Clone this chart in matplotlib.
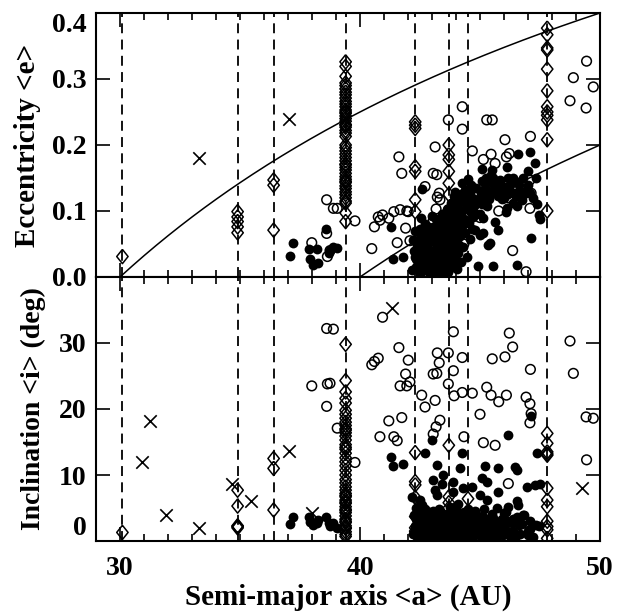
import matplotlib
matplotlib.use('Agg')
import matplotlib.pyplot as plt
import numpy as np

plt.rcParams['font.family'] = ['Liberation Serif', 'DejaVu Serif']
plt.rcParams['font.weight'] = 'bold'

# resonance locations (AU) and perihelion curves q (AU)
res_a = [30.1, 34.9, 36.4, 39.4, 42.3, 43.7, 44.5, 47.8]
q_curves = [30.0, 40.0]

# resonant objects, per resonance
e_11 = [0.031]
i_11 = [1.3]
e_54 = [0.099, 0.091, 0.084, 0.076, 0.067]
i_54 = [7.7, 5.3, 2.3, 2.0, 2.2]
e_43 = [0.147, 0.139, 0.071]
i_43 = [12.5, 11.0, 4.7]
e_32 = [0.326, 0.319, 0.304, 0.294, 0.290, 0.285, 0.280, 0.276, 0.271, 0.266,
        0.262, 0.258, 0.253, 0.248, 0.244, 0.240, 0.236, 0.231, 0.227, 0.222,
        0.218, 0.213, 0.196, 0.191, 0.186, 0.181, 0.176, 0.171, 0.166, 0.162,
        0.157, 0.152, 0.148, 0.143, 0.138, 0.134, 0.129, 0.125, 0.120, 0.115,
        0.112, 0.097, 0.084, 0.250, 0.230, 0.170, 0.145, 0.200]
i_32 = [29.8, 24.3, 22.6, 21.6, 20.9, 19.8, 19.2, 18.6, 18.0, 17.5,
        17.0, 16.4, 15.9, 15.3, 14.6, 13.9, 13.3, 12.6, 12.0, 11.4,
        10.7, 10.0, 9.3, 8.2, 7.7, 7.2, 6.7, 6.2, 5.7, 5.2,
        4.8, 4.3, 3.8, 3.3, 2.8, 2.3, 1.9, 1.4, 1.0, 0.7,
        6.9, 4.6, 3.0, 2.0, 16.8, 14.2, 5.9, 8.8]
e_53 = [0.235, 0.230, 0.225, 0.167, 0.160, 0.117, 0.099]
i_53 = [13.4, 9.0, 8.5, 6.6, 3.7, 2.0, 1.5]
e_74 = [0.200, 0.185, 0.178, 0.160, 0.142, 0.125]
i_74 = [14.5, 6.7, 5.8, 5.0, 2.5, 1.0]
e_95 = [0.140]
i_95 = [6.4]
e_21 = [0.377, 0.367, 0.347, 0.344, 0.315, 0.282, 0.258, 0.250, 0.245, 0.238, 0.208, 0.100]
i_21 = [16.3, 14.8, 13.5, 13.0, 8.0, 6.2, 5.2, 2.2, 1.7, 0.4, 13.2, 3.0]

# scattered objects (crosses); e > 0.4 lies off the top panel
a_sc = [30.9, 31.24, 31.9, 33.29, 34.68, 35.45, 37.05, 38.0, 41.33, 49.24]
e_sc = [0.52, 0.47, 0.61, 0.18, 0.55, 0.50, 0.24, 0.44, 0.58, 0.66]
i_sc = [11.9, 18.2, 4.0, 1.9, 8.6, 6.1, 13.7, 4.3, 35.3, 8.0]

# hot classicals (open circles)
a_hot = [37.99, 38.64, 38.61, 38.61, 38.89, 39.05, 38.75, 39.79,
         40.49, 40.60, 40.76, 40.83, 40.94, 41.20, 41.41, 41.55, 41.62, 41.74,
         41.67, 41.95, 41.90, 42.01, 42.08,
         42.57, 42.71, 43.13, 43.05, 43.20, 43.30, 43.22, 43.33, 43.17, 43.05,
         43.68, 43.89, 43.68, 43.89, 43.92, 44.26, 44.26, 44.33, 44.68,
         45.00, 45.14, 45.28, 45.46, 45.51, 45.63, 45.78, 46.04, 46.10, 46.22,
         46.36, 46.18, 46.92, 47.08, 47.13, 47.10, 47.08,
         48.75, 48.89, 49.42, 49.72, 49.44]
e_hot = [0.052, 0.031, 0.066, 0.117, 0.104, 0.104, 0.040, 0.085,
         0.043, 0.076, 0.091, 0.086, 0.094, 0.089, 0.099, 0.052, 0.182, 0.157,
         0.102, 0.100, 0.074, 0.099, 0.055,
         0.050, 0.137, 0.197, 0.157, 0.155, 0.127, 0.121, 0.117, 0.103, 0.086,
         0.238, 0.060, 0.102, 0.040, 0.070, 0.258, 0.224, 0.050, 0.191,
         0.090, 0.178, 0.238, 0.186, 0.238, 0.172, 0.100, 0.208, 0.182, 0.187,
         0.040, 0.120, 0.008, 0.147, 0.127, 0.213, 0.104,
         0.267, 0.302, 0.256, 0.288, 0.327]
i_hot = [23.5, 23.8, 20.4, 32.2, 32.1, 17.1, 23.9, 11.9,
         26.7, 27.2, 27.7, 15.8, 33.9, 18.2, 15.8, 15.2, 29.3, 18.7,
         23.5, 23.5, 25.3, 27.4, 24.1,
         22.1, 20.3, 21.3, 25.3, 25.4, 27.0, 28.5, 18.3, 17.3, 16.2,
         28.5, 31.7, 23.8, 25.8, 22.0, 27.8, 22.5, 15.8, 22.4,
         19.2, 14.9, 23.3, 22.1, 27.6, 14.5, 21.1, 27.9, 22.1, 31.5,
         29.4, 8.7, 21.8, 20.8, 19.3, 26.0, 17.9,
         30.3, 25.4, 18.8, 18.6, 12.3]

# cold classicals (filled circles)
a_cold = [37.08, 37.22, 37.89, 37.92, 38.05, 38.22, 38.26, 38.58, 38.71, 38.75,
          38.89, 39.03, 41.28, 41.39, 41.80,
          42.15, 42.22, 42.28, 42.32, 42.36, 42.40, 42.43, 42.46, 42.50, 42.52,
          42.55, 42.57, 42.60, 42.62, 42.64, 42.66, 42.68, 42.71, 42.73, 42.75,
          42.80, 42.83, 42.86, 42.88, 42.91, 42.94, 42.97, 42.99, 43.02, 43.05,
          43.07, 43.10, 43.13, 43.15, 43.18, 43.20, 43.20, 43.23, 43.26, 43.28,
          43.31, 43.34, 43.37, 43.40, 43.42, 43.45, 43.47, 43.50, 43.52, 43.55,
          43.58, 43.60, 43.63, 43.65, 43.67, 43.70, 43.72, 43.74, 43.76, 43.78,
          43.80, 43.82, 43.84, 43.86, 43.89, 43.89, 43.91, 43.93, 43.95, 43.96,
          43.98, 44.00, 44.02, 44.04, 44.06, 44.08, 44.10, 44.12,
          44.17, 44.20, 44.22, 44.24, 44.26, 44.28, 44.30, 44.33, 44.36, 44.39,
          44.42, 44.45, 44.48, 44.51, 44.54, 44.57, 44.60, 44.63, 44.65, 44.68,
          44.72, 44.75, 44.79, 44.85,
          44.93, 45.00, 45.00, 45.04, 45.07, 45.10, 45.14, 45.14, 45.18, 45.21,
          45.25, 45.28, 45.28, 45.32, 45.35, 45.42, 45.45, 45.49, 45.49, 45.56,
          45.60, 45.63, 45.70, 45.76, 45.76, 45.83,
          45.90, 45.96, 46.04, 46.10, 46.11, 46.11, 46.18, 46.18, 46.25, 46.32,
          46.39, 46.46, 46.53, 46.53, 46.55, 46.60, 46.68, 46.74, 46.80, 46.94,
          47.01, 47.08, 47.08, 47.13, 47.29, 47.39, 47.47, 47.50]
e_cold = [0.032, 0.051, 0.043, 0.027, 0.018, 0.042, 0.021, 0.072, 0.037, 0.041,
          0.046, 0.044, 0.076, 0.028, 0.030,
          0.010, 0.056, 0.030, 0.015, 0.045, 0.068, 0.022, 0.038, 0.005, 0.058,
          0.089, 0.025, 0.134, 0.048, 0.071, 0.012, 0.035, 0.080, 0.018, 0.062,
          0.028, 0.050, 0.008, 0.075, 0.040, 0.020, 0.065, 0.034, 0.092, 0.012,
          0.055, 0.026, 0.078, 0.042, 0.006, 0.060, 0.032, 0.085, 0.018, 0.048,
          0.070, 0.030, 0.010, 0.058, 0.095, 0.038, 0.022, 0.066, 0.046, 0.014,
          0.080, 0.030, 0.102, 0.055, 0.008, 0.068, 0.040, 0.088, 0.020, 0.112,
          0.050, 0.075, 0.035, 0.096, 0.015, 0.060, 0.122, 0.045, 0.082, 0.129,
          0.025, 0.070, 0.105, 0.052, 0.012, 0.090, 0.036, 0.115,
          0.062, 0.098, 0.022, 0.143, 0.078, 0.120, 0.045, 0.088, 0.132, 0.066,
          0.105, 0.030, 0.148, 0.112, 0.082, 0.125, 0.058, 0.140, 0.095, 0.072,
          0.091, 0.118, 0.071, 0.135,
          0.017, 0.064, 0.096, 0.128, 0.164, 0.145, 0.066, 0.089, 0.112, 0.122,
          0.150, 0.107, 0.144, 0.130, 0.048, 0.051, 0.155, 0.127, 0.162, 0.016,
          0.140, 0.084, 0.137, 0.071, 0.122, 0.147,
          0.118, 0.132, 0.137, 0.099, 0.167, 0.104, 0.125, 0.150, 0.140, 0.144,
          0.112, 0.128, 0.144, 0.108, 0.018, 0.186, 0.130, 0.117, 0.150, 0.132,
          0.160, 0.190, 0.127, 0.059, 0.172, 0.110, 0.094, 0.088]
i_cold = [2.6, 3.6, 3.7, 2.9, 2.4, 2.7, 3.2, 3.7, 2.7, 2.2,
          2.7, 1.9, 12.7, 11.4, 11.7,
          6.7, 1.0, 2.2, 3.4, 0.6, 2.8, 4.2, 1.5, 6.2, 0.9,
          3.0, 5.5, 1.8, 2.5, 0.4, 4.6, 1.2, 13.3, 3.6, 2.0,
          0.7, 3.1, 1.9, 4.4, 0.5, 2.6, 1.3, 15.3, 3.8, 9.2,
          0.8, 2.3, 7.7, 1.1, 3.5, 11.5, 7.0, 0.6, 2.0, 4.9,
          1.6, 0.4, 2.9, 8.7, 1.8, 3.3, 10.0, 0.9, 2.4, 4.0,
          1.2, 3.0, 0.5, 2.2, 1.6, 4.3, 0.8, 2.7, 5.2, 1.4,
          3.6, 0.3, 2.0, 4.7, 9.0, 7.5, 1.0, 2.9, 0.6, 3.4,
          1.8, 4.1, 2.4, 0.9, 3.1, 1.5, 5.6, 2.6,
          11.0, 1.1, 3.8, 13.3, 0.7, 2.5, 8.0, 4.4, 1.3, 3.2,
          0.5, 2.1, 4.8, 1.7, 3.5, 0.9, 2.8, 1.2, 8.2, 3.9,
          0.6, 2.3, 4.5, 1.6,
          3.0, 7.0, 1.0, 2.6, 9.5, 0.4, 3.6, 1.8, 4.8, 11.3,
          2.2, 9.0, 6.2, 1.4, 3.3, 0.8, 2.7, 4.1, 1.1, 2.0,
          0.6, 3.0, 5.0, 7.5, 11.0, 1.7,
          3.4, 0.9, 2.4, 4.4, 1.3, 3.1, 5.2, 16.1, 0.7, 2.8,
          1.5, 11.2, 10.7, 6.0, 3.7, 5.5, 1.0, 2.6, 4.0, 8.2,
          0.9, 3.0, 1.8, 18.9, 8.5, 13.3, 2.2, 8.6]

# dense core of the cold population
a_core = [42.24, 42.31, 42.34, 42.39, 42.44, 42.49, 42.53, 42.59, 42.63, 42.67,
          42.72, 42.77, 42.82, 42.85, 42.90, 42.95, 43.00, 43.04, 43.09, 43.12,
          43.17, 43.22, 43.27, 43.32, 43.36, 43.39, 43.44, 43.48, 43.53, 43.57,
          43.62, 43.66, 43.71, 43.75, 43.80, 43.85, 43.88, 43.94, 43.99, 44.03,
          44.09, 44.14, 44.19, 44.25, 44.31, 44.38, 44.44, 44.50, 44.58, 44.66,
          44.74, 44.82, 44.96, 45.08, 45.20, 45.38, 45.55, 45.72, 45.88, 46.02,
          46.20, 46.36, 46.50, 46.64, 46.85, 47.02, 47.20, 47.35]
e_core = [0.040, 0.070, 0.028, 0.050, 0.012, 0.072, 0.035, 0.052, 0.022, 0.060,
          0.042, 0.010, 0.066, 0.038, 0.055, 0.005, 0.072, 0.040, 0.020, 0.062,
          0.088, 0.050, 0.028, 0.078, 0.045, 0.004, 0.068, 0.090, 0.026, 0.056,
          0.012, 0.078, 0.098, 0.030, 0.085, 0.060, 0.105, 0.020, 0.092, 0.075,
          0.110, 0.048, 0.125, 0.100, 0.068, 0.115, 0.085, 0.130, 0.100, 0.118,
          0.108, 0.095, 0.118, 0.110, 0.135, 0.118, 0.150, 0.128, 0.140, 0.120,
          0.132, 0.150, 0.122, 0.140, 0.125, 0.140, 0.120, 0.150]
i_core = [3.9, 1.6, 5.0, 2.4, 0.3, 3.2, 1.0, 4.0, 0.9, 2.9,
          4.8, 1.4, 2.2, 0.5, 3.6, 1.7, 2.8, 4.5, 1.2, 0.3,
          2.5, 3.9, 1.4, 0.6, 4.2, 2.1, 1.0, 3.4, 0.5, 2.6,
          3.8, 1.1, 2.9, 0.4, 4.5, 1.7, 3.2, 0.8, 2.2, 4.6,
          0.6, 2.9, 1.8, 3.6, 0.9, 2.0, 3.7, 1.4, 0.7, 2.6,
          4.0, 1.1, 2.4, 3.8, 0.8, 2.1, 3.5, 0.6, 2.2, 4.2,
          1.3, 3.3, 0.8, 2.4, 3.9, 1.5, 0.6, 2.5]

# build resonant arrays
res_e = [e_11, e_54, e_43, e_32, e_53, e_74, e_95, e_21]
res_i = [i_11, i_54, i_43, i_32, i_53, i_74, i_95, i_21]
a_res = np.concatenate([[a] * len(e) for a, e in zip(res_a, res_e)])
e_res = np.concatenate(res_e)
i_res = np.concatenate(res_i)

a_filled = a_cold + a_core
e_filled = e_cold + e_core
i_filled = i_cold + i_core

diamond = [(0, 1), (0.8, 0), (0, -1), (-0.8, 0), (0, 1)]

fig = plt.figure(figsize=(6.21, 6.12), dpi=100)
ax1 = fig.add_axes([0.1546, 0.5474, 0.8116, 0.4314])
ax2 = fig.add_axes([0.1546, 0.1160, 0.8116, 0.4314])

for ax, y_res, y_sc, y_hot, y_cold in [
        (ax1, e_res, e_sc, e_hot, e_filled),
        (ax2, i_res, i_sc, i_hot, i_filled)]:
    for a in res_a:
        ax.axvline(a, color='black', lw=1.3, ls=(0, (5.5, 3.5)), zorder=1)
    ax.scatter(a_hot, y_hot, s=48, facecolors='none', edgecolors='black',
               linewidths=1.1, zorder=3)
    ax.scatter(a_filled, y_cold, s=50, color='black', linewidths=0, zorder=4)
    ax.scatter(a_res, y_res, s=105, marker=diamond, facecolors='none',
               edgecolors='black', linewidths=1.1, zorder=5)
    ax.scatter(a_sc, y_sc, s=80, marker='x', color='black', linewidths=1.2, zorder=6)
    ax.set_xlim(29, 50)
    ax.set_xticks([30, 40, 50])
    ax.set_xticks(np.arange(29, 51), minor=True)
    ax.tick_params(which='both', direction='in', top=True, right=True,
                   labelsize=20, width=1.2)
    ax.tick_params(which='major', length=10)
    ax.tick_params(which='minor', length=5)
    ax.tick_params(axis='y', which='minor', left=False, right=False)
    ax.tick_params(axis='y', pad=7)
    for sp in ax.spines.values():
        sp.set_linewidth(1.5)

# perihelion curves in the eccentricity panel
for q in q_curves:
    aa = np.linspace(q, 50, 200)
    ax1.plot(aa, 1 - q / aa, color='black', lw=1.1, zorder=2)

ax1.set_ylim(0, 0.4)
ax1.set_yticks([0.0, 0.1, 0.2, 0.3, 0.4])
ax1.set_yticklabels(['0.0', '0.1', '0.2', '0.3', '0.4'])
ax1.tick_params(labelbottom=False)
ax1.set_ylabel('Eccentricity <e>', fontsize=21, fontweight='bold', labelpad=8)
ax1.get_yticklabels()[-1].set_va('top')

ax2.set_ylim(0, 40)
ax2.set_yticks([0, 10, 20, 30])
ax2.set_ylabel('Inclination <i> (deg)', fontsize=20, fontweight='bold', labelpad=9)
ax2.set_xlabel('Semi-major axis <a> (AU)', fontsize=21, fontweight='bold', labelpad=2)
ax2.get_yticklabels()[0].set_va('bottom')
ax2.tick_params(axis='x', pad=11)

fig.savefig('out.png', dpi=100)
